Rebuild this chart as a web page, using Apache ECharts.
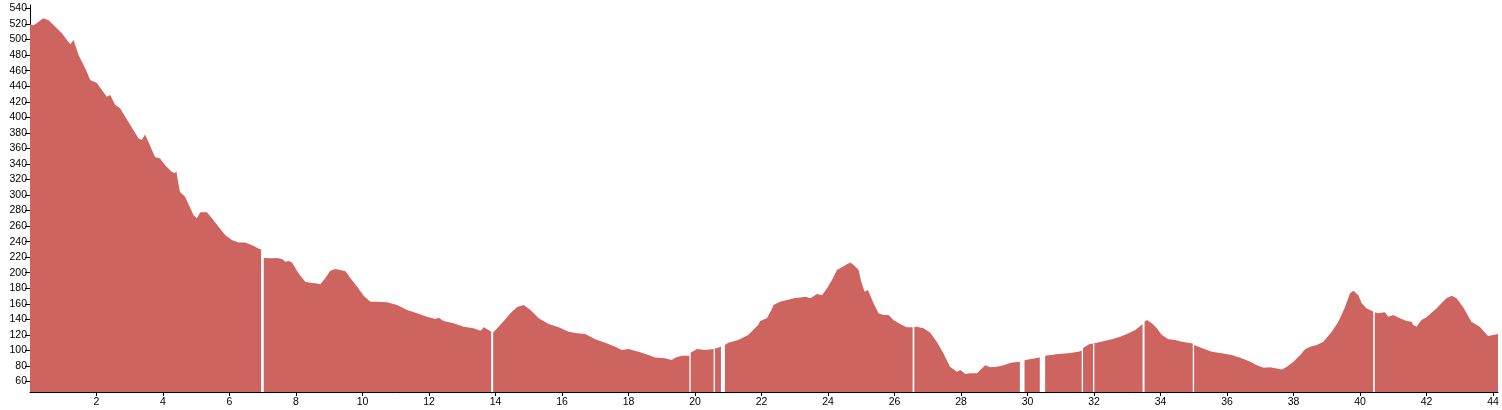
<!DOCTYPE html>
<html>
<head>
<meta charset="utf-8">
<script src="https://cdn.jsdelivr.net/npm/echarts@6/dist/echarts.min.js"></script>
<style>
html,body{margin:0;padding:0;background:#fff;}
#chart{width:1502px;height:410px;}
</style>
</head>
<body>
<div id="chart"></div>
<script>
// distance (km) and elevation (m); null marks a gap in the recorded track
const km = [0.0,0.1,0.2,0.4,0.56,0.76,0.96,1.1,1.21,1.31,1.46,1.66,1.81,2.01,2.16,2.31,2.41,2.56,2.71,2.96,3.26,3.36,3.46,3.56,3.76,3.91,4.06,4.26,4.36,4.4,4.45,4.51,4.66,4.92,5.02,5.12,5.32,5.47,5.67,5.87,6.07,6.27,6.47,6.67,6.87,6.95,6.99,7.03,7.23,7.43,7.58,7.68,7.78,7.88,8.08,8.28,8.43,8.58,8.73,8.88,9.03,9.18,9.33,9.49,9.64,9.84,10.04,10.24,10.44,10.74,11.04,11.34,11.64,11.94,12.04,12.19,12.29,12.44,12.74,13.04,13.34,13.55,13.65,13.79,13.87,13.9,13.93,14.05,14.25,14.45,14.65,14.85,15.05,15.3,15.6,15.9,16.2,16.45,16.7,17.0,17.3,17.6,17.8,18.0,18.3,18.6,18.8,19.1,19.3,19.4,19.6,19.83,19.85,19.87,20.06,20.3,20.56,20.58,20.6,20.7,20.78,20.84,20.9,21.0,21.3,21.6,21.9,21.96,22.16,22.3,22.36,22.56,22.77,22.97,23.17,23.32,23.47,23.67,23.82,23.97,24.12,24.27,24.42,24.57,24.67,24.77,24.92,25.0,25.1,25.2,25.37,25.52,25.67,25.82,25.97,26.17,26.37,26.545,26.57,26.595,26.67,26.87,27.07,27.27,27.47,27.67,27.88,27.98,28.13,28.28,28.48,28.58,28.73,28.88,29.08,29.28,29.5,29.77,29.84,29.91,30.23,30.37,30.45,30.53,30.58,30.93,31.23,31.53,31.63,31.65,31.67,31.7,31.85,31.97,31.99,32.01,32.09,32.34,32.54,32.79,33.04,33.24,33.39,33.46,33.49,33.52,33.59,33.74,33.89,34.04,34.24,34.44,34.64,34.97,34.99,35.01,35.14,35.34,35.54,35.84,36.14,36.44,36.7,36.9,37.1,37.3,37.45,37.65,37.8,38.0,38.2,38.35,38.5,38.7,38.9,39.15,39.35,39.55,39.7,39.8,39.95,40.05,40.2,40.395,40.42,40.445,40.55,40.75,40.85,41.0,41.2,41.4,41.55,41.6,41.7,41.85,42.0,42.15,42.3,42.45,42.6,42.76,42.9,43.1,43.35,43.6,43.85,44.0,44.15];
const elevation = [520,518,521,527.5,525,516.6,508,500,494,499.5,480,463,448,444,435,426.5,428.7,416,411.6,394,373,370.8,378,368.6,349,347,338.6,330,328,331,318,304,298,274,270,277.7,277.7,270,259,248.5,242,239,239,235.6,231,230,null,219,218.6,219,217.6,214,215,213,199,188.5,187,186.4,185,192.8,202.6,204.8,203.5,202,192.8,182,170,162.7,162.7,162,158.5,152,147.8,143.4,142,140.4,142,138,135,130.6,128.5,125.4,129.7,126.3,124,null,123,128.5,138,147.8,156,158.5,152,141.3,134,129.7,124,122,121,114.3,110,104.8,100.5,101.8,98.4,94,91,89.8,87.7,90.6,93.2,93,null,97,101.8,100.5,101.8,null,102.5,103.5,105,null,107,110,113.4,120,132.7,138,141.3,152,158.5,162.7,165,167,168,169,167,172.6,171,180,190.6,203.5,207,211,213,210,203.5,188.5,175.6,177.8,160.6,147.8,145.6,145.6,139,134,129.7,129.7,null,130,130.5,128.5,123,111.2,96.3,79,72.6,74.8,69.6,70.5,70.5,74.8,81,78.3,79,81,84.2,85.5,null,87.5,90,91,null,93,94,95.4,96.3,98.4,100,null,103,104.8,108,109,null,109.5,110,112.5,114.3,117.7,122,126.3,131.5,134,null,137,139,135,128.5,120,114.3,113.4,111.2,109,null,107,104.8,101.4,98.4,96.3,94,90,85.5,81,77.7,78.3,77,75.6,79,85.5,94,101.4,104.8,107,111.2,124,137,156,173.5,176.8,171,160.6,154,150,null,149,147.8,149,143.4,145.6,141.3,138,137,132.7,130.5,139,142.6,148.5,154,160.6,167,170.4,167,156,137,130.5,118.5,120,121];
const yTicks = [60,80,100,120,140,160,180,200,220,240,260,280,300,320,340,360,380,400,420,440,460,480,500,520,540];
const xTicks = [2,4,6,8,10,12,14,16,18,20,22,24,26,28,30,32,34,36,38,40,42,44];

const seriesData = km.map((d, i) => [d, elevation[i]]);

const chart = echarts.init(document.getElementById('chart'), null, {renderer: 'canvas'});
const axisFont = {fontFamily: 'Liberation Sans, Arial, sans-serif', fontSize: 10.5, color: '#000'};
chart.setOption({
  animation: false,
  backgroundColor: '#fff',
  grid: {left: 30, right: 4, top: 5, bottom: 18, containLabel: false},
  xAxis: {
    type: 'value', min: 0, max: 44.15,
    axisLine: {show: true, lineStyle: {color: '#000', width: 1}},
    axisTick: {show: true, length: 4, lineStyle: {color: '#000'}, customValues: xTicks},
    axisLabel: Object.assign({margin: 5, customValues: xTicks, formatter: v => String(v)}, axisFont),
    splitLine: {show: false}
  },
  yAxis: {
    type: 'value', min: 46.5, max: 544.5,
    axisLine: {show: true, lineStyle: {color: '#000', width: 1}},
    axisTick: {show: true, length: 5, lineStyle: {color: '#000'}, customValues: yTicks},
    axisLabel: Object.assign({margin: 3, customValues: yTicks, formatter: v => String(v)}, axisFont),
    splitLine: {show: false}
  },
  series: [{
    type: 'line',
    data: seriesData,
    showSymbol: false,
    symbol: 'none',
    connectNulls: false,
    smooth: false,
    lineStyle: {width: 0, color: '#cd6460'},
    areaStyle: {color: '#cd6460', opacity: 1, origin: 'start'},
    z: 1
  }]
});
</script>
</body>
</html>
